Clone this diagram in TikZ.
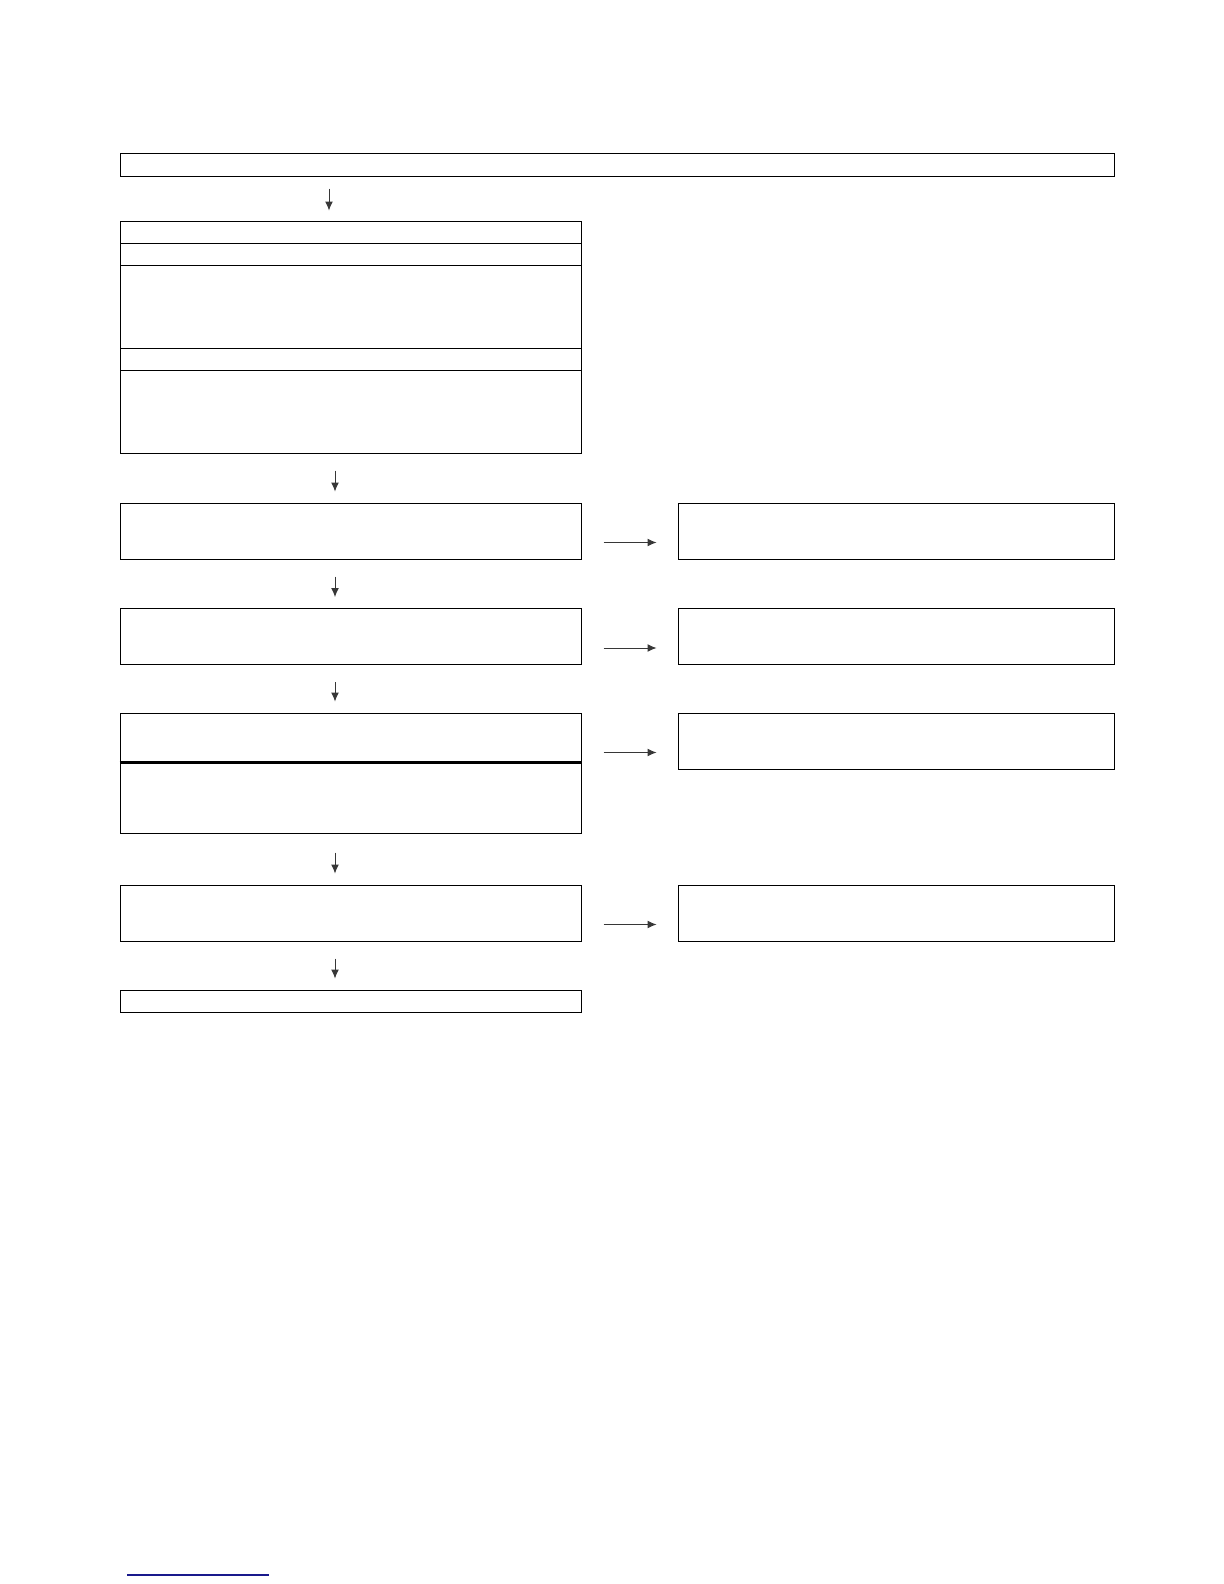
\documentclass[tikz,border=0pt]{standalone}
\usepackage{xcolor}
\usepackage{tikz}
\usetikzlibrary{shapes,arrows.meta}
\definecolor{arrowgray}{RGB}{55,55,55}
\definecolor{linkblue}{RGB}{25,25,140}
\tikzstyle{cell} = [rectangle, draw, line width=0.5pt, inner sep=0pt,
    minimum width=230.5pt, minimum height=28pt]
\tikzstyle{strip} = [cell, minimum height=11pt]
\tikzstyle{side} = [cell, minimum width=218pt]
\tikzstyle{line} = [draw, arrowgray, line width=0.5pt, -{Latex[length=4.5pt, width=4pt]},
    shorten <=8.5pt, shorten >=5.5pt]
\tikzstyle{link} = [line, shorten <=11pt, shorten >=10.5pt]

\begin{document}
\begin{tikzpicture}[node distance = 1cm, auto]
    \useasboundingbox (0,0) rectangle (612pt,-792pt);
    % Place nodes

    \node [cell, minimum width=497pt, minimum height=11.5pt] (head) at (308.5pt,-82.25pt) {};

    \node [strip] (grp_1) at (175.25pt,-116pt) {};
    \node [strip, below of=grp_1, node distance=11pt] (grp_2) {};
    \node [cell, minimum height=41.5pt, below of=grp_2, node distance=26.25pt] (grp_3) {};
    \node [strip, below of=grp_3, node distance=26.25pt] (grp_4) {};
    \node [cell, minimum height=41.5pt, below of=grp_4, node distance=26.25pt] (grp_5) {};

    \node [cell, below of=grp_5, node distance=59.75pt] (step_1) {};
    \node [side, right of=step_1, node distance=272.75pt] (note_1) {};
    \node [cell, below of=step_1, node distance=52.75pt] (step_2) {};
    \node [side, right of=step_2, node distance=272.75pt] (note_2) {};
    \node [cell, minimum height=24.5pt, below of=step_2, node distance=50.5pt] (step_3a) {};
    \node [cell, minimum height=35.5pt, below of=step_3a, node distance=30pt] (step_3b) {};
    \node [side, right of=step_3a, node distance=272.75pt, yshift=-1.75pt] (note_3) {};
    \node [cell, below of=step_3b, node distance=57.75pt] (step_4) {};
    \node [side, right of=step_4, node distance=272.75pt] (note_4) {};
    \node [strip, below of=step_4, node distance=44pt] (tail) {};

    \draw [line width=1.1pt] (step_3a.south west) -- (step_3a.south east);

    \coordinate (spine_0) at (164.5pt,0);
    \coordinate (spine) at (167.5pt,0);

    \path [line, shorten <=6pt, shorten >=5pt] (head.south -| spine_0) -- (grp_1.north -| spine_0);
    \path [line] (grp_5.south -| spine) -- (step_1.north -| spine);
    \path [line] (step_1.south -| spine) -- (step_2.north -| spine);
    \path [line] (step_2.south -| spine) -- (step_3a.north -| spine);
    \path [line, shorten <=9.5pt] (step_3b.south -| spine) -- (step_4.north -| spine);
    \path [line] (step_4.south -| spine) -- (tail.north -| spine);

    \path [link] ([yshift=-5.75pt]note_1.west -| step_1.east) -- ([yshift=-5.75pt]note_1.west);
    \path [link] ([yshift=-5.75pt]note_2.west -| step_2.east) -- ([yshift=-5.75pt]note_2.west);
    \path [link] ([yshift=-5.75pt]note_3.west -| step_3a.east) -- ([yshift=-5.75pt]note_3.west);
    \path [link] ([yshift=-5.75pt]note_4.west -| step_4.east) -- ([yshift=-5.75pt]note_4.west);

    \draw [linkblue, line width=0.75pt] (63.5pt,-787.5pt) -- (134.5pt,-787.5pt);

\end{tikzpicture}
\end{document}
